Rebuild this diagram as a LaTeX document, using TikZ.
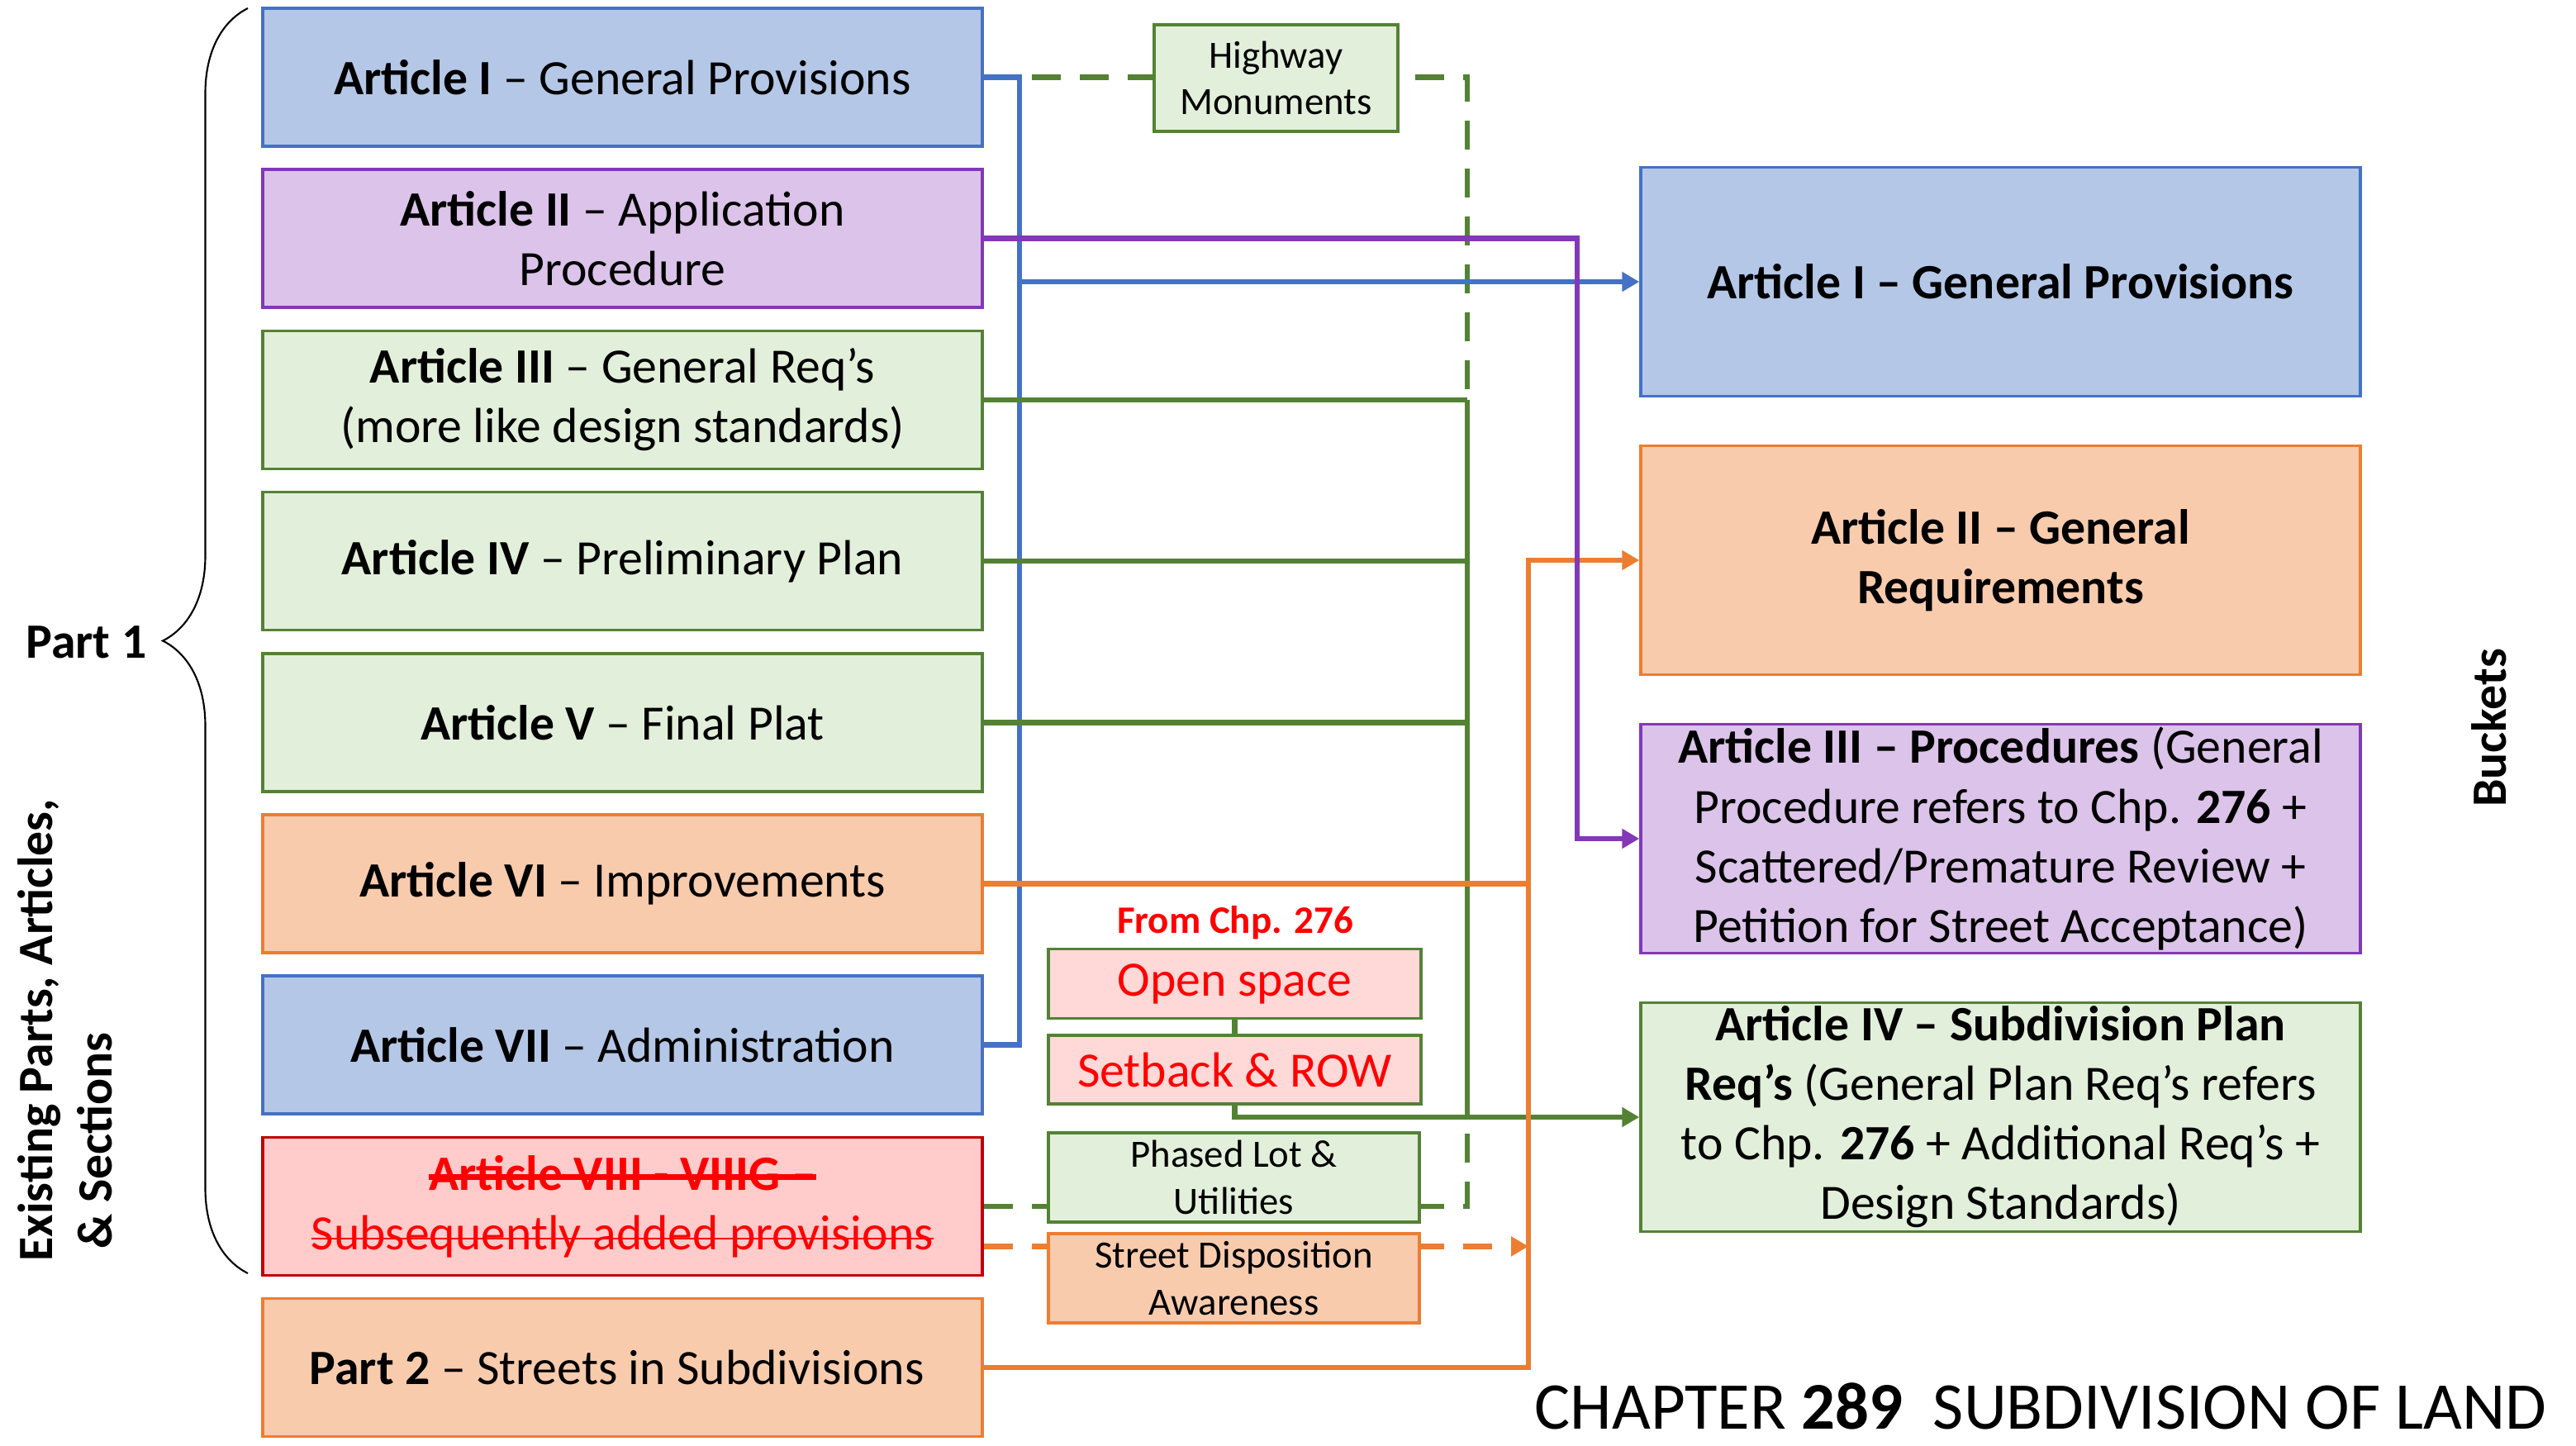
\documentclass[tikz,border=0pt]{standalone}
\usepackage{fontspec}
\setmainfont{Carlito}
\usepackage{xcolor}
\definecolor{cBlue}{HTML}{4472C4}
\definecolor{cBlueFill}{HTML}{B4C7E7}
\definecolor{cPurple}{HTML}{8338B8}
\definecolor{cPurpleFill}{HTML}{DCC3EA}
\definecolor{cGreen}{HTML}{548235}
\definecolor{cGreenFill}{HTML}{E2EFDA}
\definecolor{cOrange}{HTML}{ED7D31}
\definecolor{cOrangeFill}{HTML}{F8CBAD}
\definecolor{cRed}{HTML}{C00000}
\definecolor{cRedFill}{HTML}{FFCBCB}
\definecolor{cRedText}{HTML}{FF0000}
\definecolor{cPinkFill}{HTML}{FFD8D8}
\usepackage{tikz}
\usetikzlibrary{arrows.meta,decorations.pathreplacing,backgrounds}
\newcommand{\txtbig}{\fontsize{17}{20.5}\selectfont}
\newcommand{\txtsmall}{\fontsize{13.3}{16}\selectfont}
% struck-out text: #1 rule thickness, #2 text
\newsavebox{\strikebox}
\newcommand{\strikeout}[2]{\sbox{\strikebox}{#2}%
  \rlap{\raisebox{0.2em}{\rule{\wd\strikebox}{#1}}}\usebox{\strikebox}}
\tikzset{
  box-left/.style={draw,line width=1pt,minimum width=87.1mm,minimum height=16.7mm,
    inner sep=0pt,align=center,font=\txtbig},
  box-right/.style={box-left,minimum height=27.7mm},
  box-small/.style={draw,line width=1pt,minimum width=44.9mm,inner sep=0pt,
    align=center,font=\txtsmall},
  box-blue/.style={draw=cBlue,fill=cBlueFill},
  box-purple/.style={draw=cPurple,fill=cPurpleFill},
  box-green/.style={draw=cGreen,fill=cGreenFill},
  box-orange/.style={draw=cOrange,fill=cOrangeFill},
  box-red/.style={draw=cRed,fill=cRedFill,text=cRedText},
  box-pink/.style={draw=cGreen,fill=cPinkFill,text=cRedText,font=\txtbig},
  conn/.style={line width=1.9pt},
  arrow/.style={conn,-{Triangle[length=2.1mm,width=2.3mm]}},
  conn-dash/.style={conn,dash pattern=on 10pt off 6.5pt},
}

\begin{document}
\begin{tikzpicture}[x=1mm,y=-1mm]
  \useasboundingbox (0,0) rectangle (311.8,175);
  % existing parts, left column
  \foreach \name/\look/\k/\txt in {
    artI/box-blue/0/{\textbf{Article I} -- General Provisions},
    artII/box-purple/1/{\textbf{Article II} -- Application\\Procedure},
    artIII/box-green/2/{\textbf{Article III} -- General Req’s\\(more like design standards)},
    artIV/box-green/3/{\textbf{Article IV} -- Preliminary Plan},
    artV/box-green/4/{\textbf{Article V} -- Final Plat},
    artVI/box-orange/5/{\textbf{Article VI} -- Improvements},
    artVII/box-blue/6/{\textbf{Article VII} -- Administration},
    artVIII/box-red/7/{\strikeout{2pt}{\textbf{Article VIII - VIIIG --}}\\\strikeout{0.7pt}{Subsequently added provisions}},
    partII/box-orange/8/{\textbf{Part 2} -- Streets in Subdivisions}
  }
    \node[box-left,\look] (\name) at (75.35,{9.35+19.52*\k}) {\txt};
  % buckets, right column
  \node[box-right,box-blue] (bucketI) at (242.15,34.1)
    {\textbf{Article I -- General Provisions}};
  \node[box-right,box-orange] (bucketII) at (242.15,67.8)
    {\textbf{Article II -- General}\\\textbf{Requirements}};
  \node[box-right,box-purple] (bucketIII) at (242.15,101.5)
    {\textbf{Article III -- Procedures} (General\\Procedure refers to Chp. \textbf{276} +\\Scattered/Premature Review +\\Petition for Street Acceptance)};
  \node[box-right,box-green] (bucketIV) at (242.15,135.2)
    {\textbf{Article IV -- Subdivision Plan}\\\textbf{Req’s} (General Plan Req’s refers\\to Chp. \textbf{276} + Additional Req’s +\\Design Standards)};
  % middle notes
  \node[box-small,box-green,minimum width=29.5mm,minimum height=12.9mm] (highway) at (154.45,9.45) {Highway\\Monuments};
  \node[font=\fontsize{13.4}{16}\selectfont\bfseries,text=cRedText] (from276) at (149.5,111.7) {From Chp. 276};
  \node[box-small,box-pink,minimum width=45.1mm,minimum height=8.4mm] (openspace) at (149.45,119.05) {Open space};
  \node[box-small,box-pink,minimum width=45.1mm,minimum height=8.3mm] (setback) at (149.45,129.45) {Setback \& ROW};
  \node[box-small,box-green,minimum height=10.8mm] (phased) at (149.35,142.5) {Phased Lot \&\\Utilities};
  \node[box-small,box-orange,minimum height=10.8mm] (streetdisp) at (149.35,154.7) {Street Disposition\\Awareness};
  % labels
  \node[font=\txtbig\bfseries] (part1) at (10.45,77.7) {Part 1};
  \draw[decorate,decoration={brace,amplitude=10.3mm},line width=0.6pt] (30,154.1) -- (30,1.0);
  \node[font=\txtbig\bfseries,rotate=90,anchor=west,inner sep=0pt,align=left] (existing) at (7.9,152.7)
    {Existing Parts, Articles,\\\hspace*{1.5mm}\& Sections};
  \node[font=\txtbig\bfseries,rotate=90] (buckets) at (301.3,88.1) {Buckets};
  \node[font=\fontsize{23}{27}\selectfont,anchor=base east,inner sep=0pt] (chapter) at (308.3,172.9)
    {CHAPTER \textbf{289}\ \ SUBDIVISION OF LAND};
  % buses
  \coordinate (blueBus) at (123.4,0);
  \coordinate (greenBus) at (177.6,0);
  \coordinate (orangeBus) at (185.0,0);
  \coordinate (purpleBus) at (190.9,0);
  \coordinate (sdFrom) at ([yshift=-4.85mm]artVIII.east);
  \begin{scope}[on background layer]
    \draw[conn-dash,cGreen] (artI.east) -| (greenBus |- artIII.east);
    \draw[conn-dash,cGreen] (artVIII.east) -| (greenBus |- bucketIV.west);
    \draw[conn-dash,cOrange,-{Triangle[length=2.1mm,width=2.3mm]}] (sdFrom) -- (sdFrom -| orangeBus);
    \draw[conn,cBlue] (artI.east) -| (blueBus |- artVII.east) -- (artVII.east);
    \draw[arrow,cBlue] (blueBus |- bucketI.west) -- (bucketI.west);
    \foreach \n in {artIII,artIV,artV}
      \draw[conn,cGreen] (\n.east) -- (greenBus |- \n.east);
    \draw[arrow,cGreen] (greenBus |- artIII.east) -- (greenBus |- bucketIV.west) -- (bucketIV.west);
    \draw[conn,cGreen] (openspace.south) -- (setback.north);
    \draw[conn,cGreen] (setback.south) |- (greenBus |- bucketIV.west);
    \draw[conn,cOrange] (artVI.east) -- (orangeBus |- artVI.east);
    \draw[arrow,cOrange] (partII.east) -| (orangeBus |- bucketII.west) -- (bucketII.west);
    \draw[arrow,cPurple] (artII.east) -| (purpleBus |- bucketIII.west) -- (bucketIII.west);
  \end{scope}
\end{tikzpicture}
\end{document}
